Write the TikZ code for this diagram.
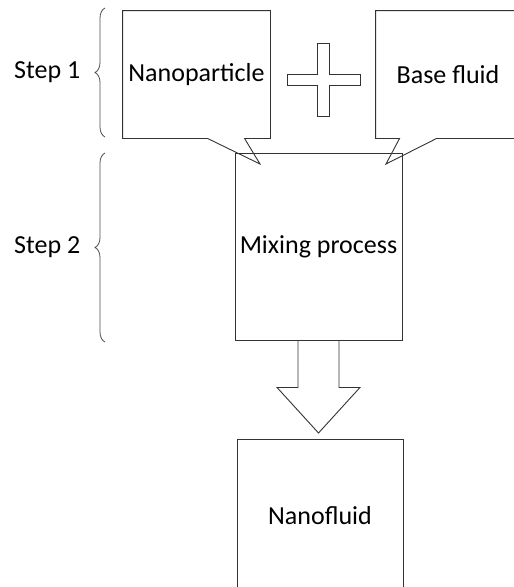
\documentclass[tikz,border=0pt]{standalone}
\usepackage{fontspec}
\setmainfont{Carlito}
\usetikzlibrary{calc, positioning, decorations.pathreplacing}

\tikzset{
  box/.style={draw=black!80, line width=0.9pt, minimum width=#1},
  label/.style={font=\fontsize{26}{30}\selectfont},
  stepbrace/.style={draw=black!70, line width=0.8pt, decorate, decoration={brace, amplitude=10pt}},
}

\begin{document}
\begin{tikzpicture}[x=1pt, y=-1pt, line width=0.9pt]
          \useasboundingbox (0,0) rectangle (514,587);
          \clip (0,0) rectangle (514,587);
          % Step 1
          \node[label, minimum width=147pt, minimum height=127pt] (np) at (196.5,74.5) {Nanoparticle};
          \node[label, minimum width=144pt, minimum height=127pt] (bf) at (448,74.5) {Base fluid};
          % Step 2
          \node[box=167pt, label, minimum height=187pt] (mix) at (318.5,246.5) {Mixing process};
          % Result
          \node[box=166pt, label, minimum height=154pt] (nf) at (320,516) {Nanofluid};
          % Callouts
          \coordinate (nptip) at (260,164);
          \coordinate (bftip) at (386,164);
          \draw[black!80] (np.south west) -- (np.north west) -- (np.north east) -- (np.south east)
            -- ($(np.south west)+(122,0)$) -- (nptip) -- ($(np.south west)+(85,0)$) -- cycle;
          \draw[black!80] ($(bf.south west)+(61,0)$) -- (bf.south east) -- (bf.north east) -- (bf.north west)
            -- (bf.south west) -- ($(bf.south west)+(24,0)$) -- (bftip) -- cycle;
          % Plus sign
          \coordinate (plus) at (323.5,79.5);
          \draw[black!80] ($(plus)+(-6,-36.5)$) -- ++(12,0) -- ++(0,31) -- ++(30.5,0) -- ++(0,11)
            -- ++(-30.5,0) -- ++(0,31) -- ++(-12,0) -- ++(0,-31) -- ++(-30.5,0) -- ++(0,-11)
            -- ++(30.5,0) -- cycle;
          % Block arrow
          \coordinate (arrtip) at (318.5,433);
          \draw[black!80] ($(mix.south)+(-20.5,0)$) -- ++(0,47) -- ++(-21,0) -- (arrtip)
            -- ($(mix.south)+(41.5,47)$) -- ++(-21,0) -- ($(mix.south)+(20.5,0)$);
          % Step braces
          \draw[stepbrace] (105,137) -- (105,8) node[midway, left=21pt, label, black] (step1) {Step 1};
          \draw[stepbrace] (105,342) -- (105,153) node[midway, left=21pt, label, black] (step2) {Step 2};
\end{tikzpicture}
\end{document}
